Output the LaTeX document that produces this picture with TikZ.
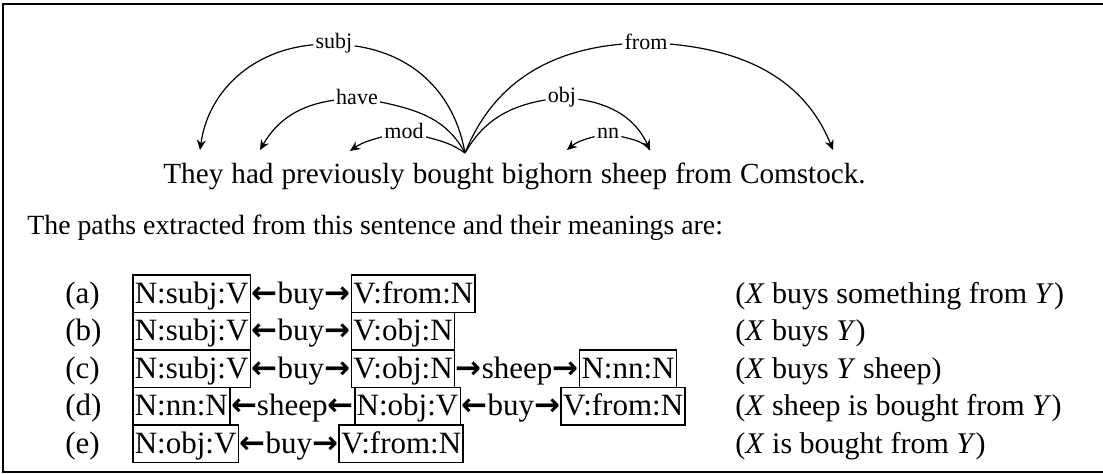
\documentclass[tikz,border=0pt]{standalone}
\usepackage{fontspec}
\setmainfont{Liberation Serif}
\newfontfamily\arrowfont{DejaVu Sans}
\usetikzlibrary{positioning}
\usetikzlibrary{arrows.meta}

\newcommand{\la}{{\arrowfont\bfseries ←}}
\newcommand{\ra}{{\arrowfont\bfseries →}}

\begin{document}
\begin{tikzpicture}[
  x=0.5pt, y=-0.5pt,
  every node/.style={font=\fontsize{15.5}{17}\selectfont},
  word/.style={inner sep=0pt, font=\fontsize{14.6}{17}\selectfont},
  intro/.style={inner sep=0pt, font=\fontsize{13.9}{16}\selectfont},
  meaning/.style={inner sep=0pt, anchor=base west, font=\fontsize{15}{17}\selectfont},
  rowlbl/.style={inner sep=0pt, anchor=base west},
  lbl/.style={inner sep=1pt, fill=white, font=\fontsize{11}{13}\selectfont},
  dep/.style={line width=0.6pt, -{Stealth[length=5pt, width=4.5pt]}},
  pathbox/.style={draw, line width=0.8pt, inner sep=1pt, text height=13.3pt, text depth=3.5pt},
  link/.style={inner sep=0pt},
  frame/.style={line width=1.3pt},
]
\useasboundingbox (0,0) rectangle (1103,474);
\draw[frame] (1103,4) -- (3,4) -- (3,472) -- (1103,472);

% the sentence
\node[word, anchor=base west] (they) at (163,184) {They};
\node[word, base right=3.6pt of they]     (had)      {had};
\node[word, base right=3.6pt of had]      (prev)     {previously};
\node[word, base right=3.6pt of prev]     (bought)   {bought};
\node[word, base right=3.6pt of bought]   (bighorn)  {bighorn};
\node[word, base right=3.6pt of bighorn]  (sheep)    {sheep};
\node[word, base right=3.6pt of sheep]    (from)     {from};
\node[word, base right=3.6pt of from]     (comstock) {Comstock.};

% arrow ends above the words
\coordinate (root)   at (465,153);
\coordinate (tThey)  at (200,150);
\coordinate (tHad)   at (260,150);
\coordinate (tPrev)  at (350,151);
\coordinate (tBig)   at (567,150);
\coordinate (tSheep) at (650,150);
\coordinate (tCom)   at (833,150);

% dependency labels
\node[lbl] (subj) at (334,43)  {subj};
\node[lbl] (have) at (357,97)  {have};
\node[lbl] (mod)  at (404,131) {mod};
\node[lbl] (fromlbl) at (646,42) {from};
\node[lbl] (obj)  at (562,97)  {obj};
\node[lbl] (nn)   at (608,133) {nn};

\draw[dep, -] (root) to[out=100, in=-8] (subj);
\draw[dep] (subj) to[out=185, in=82] (tThey);
\draw[dep, -] (root) to[out=118, in=-12] (have);
\draw[dep] (have) to[out=188, in=60] (tHad);
\draw[dep, -] (root) to[out=145, in=-15] (mod);
\draw[dep] (mod) to[out=195, in=35] (tPrev);
\draw[dep, -] (root) to[out=68, in=185] (fromlbl);
\draw[dep] (fromlbl) to[out=-5, in=112] (tCom);
\draw[dep, -] (root) to[out=60, in=190] (obj);
\draw[dep] (obj) to[out=-8, in=115] (tSheep);
\draw[dep, -] (tSheep) to[out=130, in=-15] (nn);
\draw[dep] (nn) to[out=195, in=40] (tBig);

\node[intro, anchor=base west] (intro) at (27,235)
  {The paths extracted from this sentence and their meanings are:};

% (a)
\node[rowlbl] (ra) at (65,303.5) {(a)};
\node[pathbox, anchor=base west] (a1) at (132,303.5) {N:subj:V};
\node[link, base right=0pt of a1] (a2) {\la buy\ra};
\node[pathbox, base right=0pt of a2] (a3) {V:from:N};
\node[meaning] (ma) at (735,303.5) {(\textit{X} buys something from \textit{Y})};
% (b)
\node[rowlbl] (rb) at (65,341) {(b)};
\node[pathbox, anchor=base west] (b1) at (132,341) {N:subj:V};
\node[link, base right=0pt of b1] (b2) {\la buy\ra};
\node[pathbox, base right=0pt of b2] (b3) {V:obj:N};
\node[meaning] (mb) at (735,341) {(\textit{X} buys \textit{Y})};
% (c)
\node[rowlbl] (rc) at (65,378.5) {(c)};
\node[pathbox, anchor=base west] (c1) at (132,378.5) {N:subj:V};
\node[link, base right=0pt of c1] (c2) {\la buy\ra};
\node[pathbox, base right=0pt of c2] (c3) {V:obj:N};
\node[link, base right=0pt of c3] (c4) {\ra sheep\ra};
\node[pathbox, base right=0pt of c4] (c5) {N:nn:N};
\node[meaning] (mc) at (735,378.5) {(\textit{X} buys \textit{Y} sheep)};
% (d)
\node[rowlbl] (rd) at (65,416) {(d)};
\node[pathbox, anchor=base west] (d1) at (132,416) {N:nn:N};
\node[link, base right=0pt of d1] (d2) {\la sheep\la};
\node[pathbox, base right=0pt of d2] (d3) {N:obj:V};
\node[link, base right=0pt of d3] (d4) {\la buy\ra};
\node[pathbox, base right=0pt of d4] (d5) {V:from:N};
\node[meaning] (md) at (735,416) {(\textit{X} sheep is bought from \textit{Y})};
% (e)
\node[rowlbl] (re) at (65,453.5) {(e)};
\node[pathbox, anchor=base west] (e1) at (132,453.5) {N:obj:V};
\node[link, base right=0pt of e1] (e2) {\la buy\ra};
\node[pathbox, base right=0pt of e2] (e3) {V:from:N};
\node[meaning] (me) at (735,453.5) {(\textit{X} is bought from \textit{Y})};
\end{tikzpicture}
\end{document}
